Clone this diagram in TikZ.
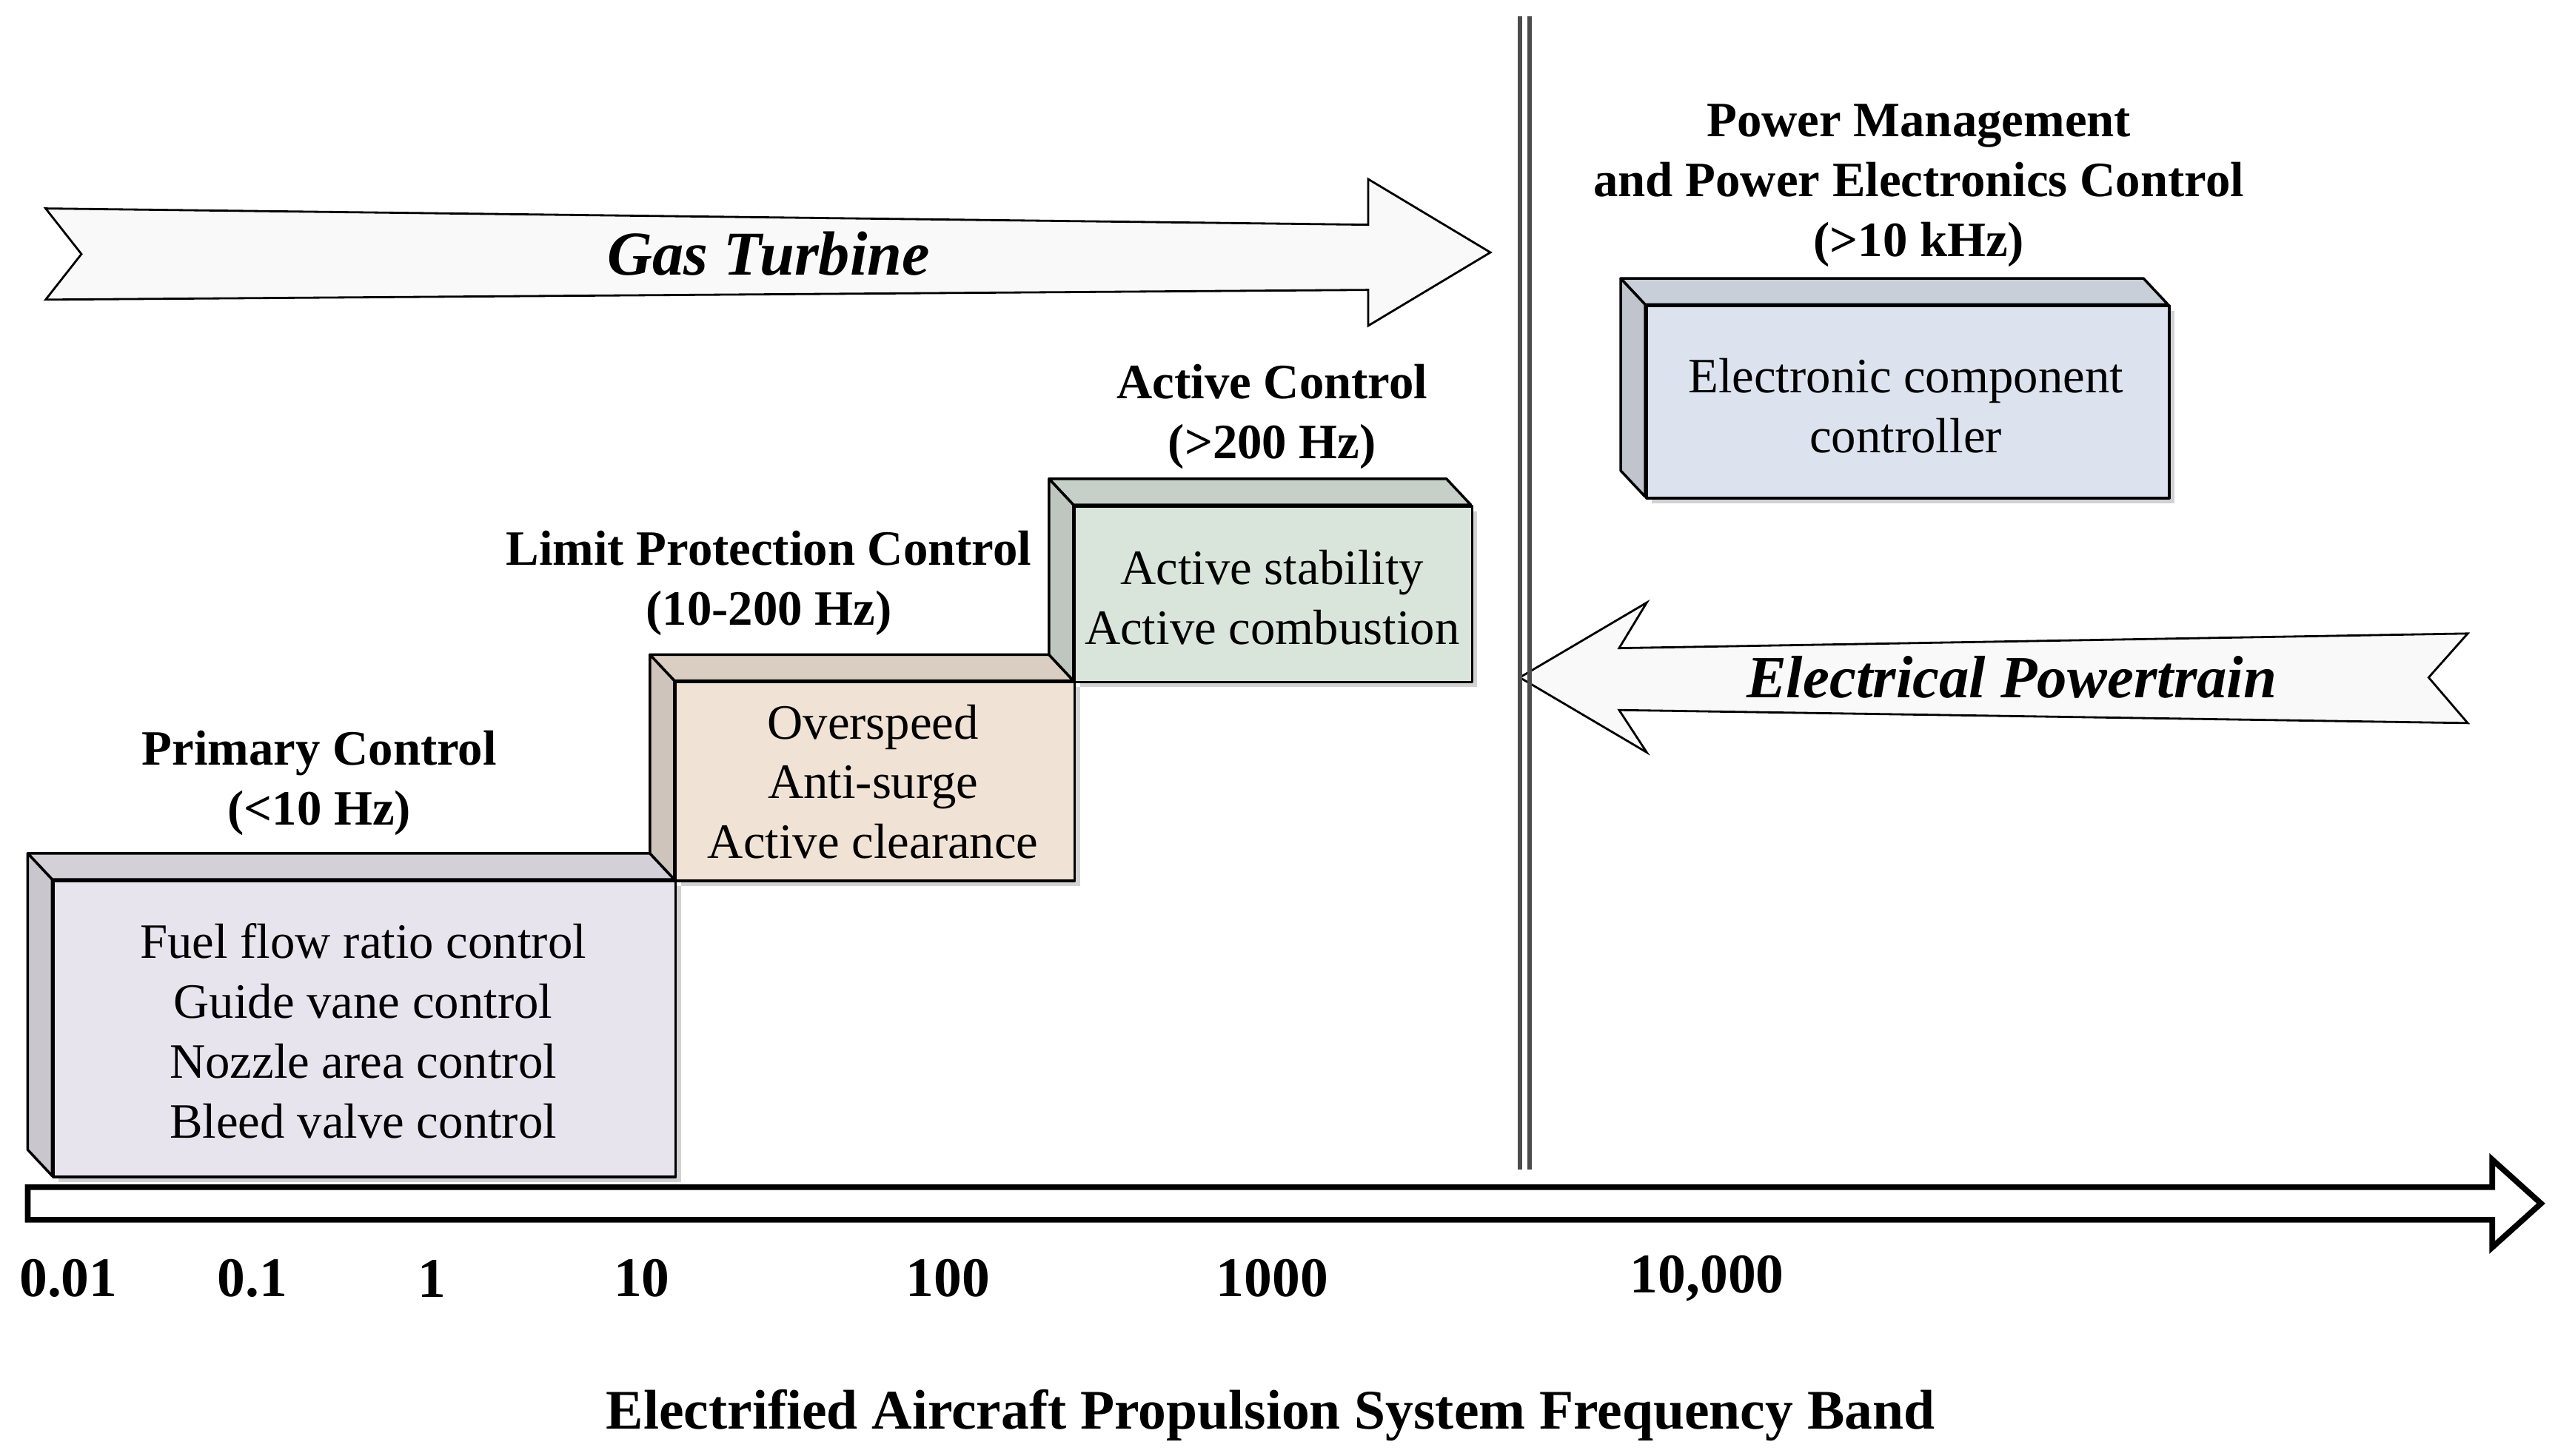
\documentclass[tikz,border=0pt]{standalone}
\usepackage{fontspec}
\setmainfont{Liberation Serif}
\begin{document}
\begin{tikzpicture}[x=0.022cm,y=-0.022cm,
  lbl/.style={font=\fontsize{19}{23}\selectfont,align=center},
  ttl/.style={font=\bfseries\fontsize{19}{23}\selectfont,align=center},
  ax/.style={font=\bfseries\fontsize{21.5}{24}\selectfont},
  face/.style={draw=black,line width=1pt,line join=round}]
\useasboundingbox (0,0) rectangle (1568.6,894);
\newcommand\threebox[6]{% name, x1,y1,x2,y2, color
  \fill[gray!35] (#2+4,#3+4) rectangle (#4+4,#5+4);
  \fill[#6!80!gray,face] (#2-15,#3-16) -- (#4-15,#3-16) -- (#4,#3) -- (#2,#3) -- cycle;
  \fill[#6!70!gray,face] (#2-15,#3-16) -- (#2,#3) -- (#2,#5) -- (#2-15,#5-16) -- cycle;
  \node[face,fill=#6,minimum width={(#4-#2)*0.022cm},minimum height={(#5-#3)*0.022cm},inner sep=0pt,anchor=north west] (#1) at (#2,#3) {};
}
\definecolor{cP}{HTML}{E8E4EE}
\definecolor{cL}{HTML}{F0E2D4}
\definecolor{cA}{HTML}{D9E4DA}
\definecolor{cE}{HTML}{DCE3EE}
% gas turbine arrow
\filldraw[fill=gray!5,draw=black,line width=0.8pt] (28,128) -- (840,138) -- (840,110) -- (915,155) -- (840,200) -- (840,178) -- (28,184) -- (50,156) -- cycle;
\node[font=\bfseries\itshape\fontsize{24}{28}\selectfont] (gt) at (472,156) {Gas Turbine};
% electrical powertrain arrow
\filldraw[fill=gray!5,draw=black,line width=0.8pt] (933,416) -- (1011,370) -- (994,398) -- (1515,389) -- (1491,416) -- (1515,444) -- (994,436) -- (1011,462) -- cycle;
\node[font=\bfseries\itshape\fontsize{23}{28}\selectfont] (ep) at (1235,416) {Electrical Powertrain};
% vertical divider
\coordinate (vt) at (936,10); \coordinate (vb) at (936,718);
\draw[gray!60!black,line width=1.8pt] ([xshift=-0.066cm]vt) -- ([xshift=-0.066cm]vb);
\draw[gray!60!black,line width=1.8pt] ([xshift=0.066cm]vt) -- ([xshift=0.066cm]vb);
% boxes
\threebox{pb}{32}{540}{414}{722}{cP}
\threebox{lb}{414}{418}{659}{540}{cL}
\threebox{ab}{659}{310}{903}{418}{cA}
\threebox{eb}{1010}{187}{1331}{305}{cE}
\node[lbl] at (223,633) {Fuel flow ratio control\\Guide vane control\\Nozzle area control\\Bleed valve control};
\node[lbl] at (536,480) {Overspeed\\Anti-surge\\Active clearance};
\node[lbl] at (781,367) {Active stability\\Active combustion};
\node[lbl] at (1170,249) {Electronic component\\controller};
\node[ttl] at (196,481) {Primary Control\\(<10 Hz)};
\node[ttl] at (472,358) {Limit Protection Control\\(10-200 Hz)};
\node[ttl] at (781,256) {Active Control\\(>200 Hz)};
\node[ttl] at (1178,114) {Power Management\\and Power Electronics Control\\(>10 kHz)};
% axis arrow
\filldraw[fill=white,draw=black,line width=2.2pt,line join=miter] (17,729) -- (1530,729) -- (1530,712) -- (1560,739) -- (1530,766) -- (1530,749) -- (17,749) -- cycle;
\node[ax] at (42,785) {0.01};
\node[ax] at (155,785) {0.1};
\node[ax] at (265,785) {1};
\node[ax] at (394,785) {10};
\node[ax] at (582,785) {100};
\node[ax] at (781,785) {1000};
\node[ax] at (1048,785) {10,000};
\node[ax] at (780,869) {Electrified Aircraft Propulsion System Frequency Band};
\end{tikzpicture}
\end{document}
